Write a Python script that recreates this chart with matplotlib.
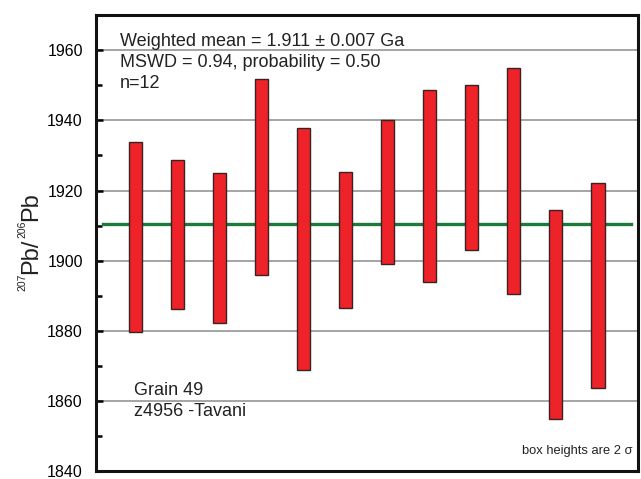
import numpy as np
import matplotlib
matplotlib.use("Agg")
import matplotlib.pyplot as plt
from matplotlib.ticker import MultipleLocator
from matplotlib.transforms import IdentityTransform

plt.rcParams['font.family'] = ['Liberation Sans', 'DejaVu Sans']

# 2-sigma box limits for each analysis (Ma)
spot = np.arange(1, 13)
box_top = [1933.8, 1928.7, 1924.9, 1951.8, 1937.9, 1925.4,
           1940.2, 1948.6, 1950.2, 1955.0, 1914.4, 1922.1]
box_bottom = [1879.8, 1886.3, 1882.4, 1896.0, 1868.9, 1886.5,
              1899.2, 1894.1, 1903.1, 1890.6, 1854.9, 1863.7]
weighted_mean = 1910.6

fig = plt.figure(figsize=(6.41, 4.79), dpi=100)
ax = fig.add_axes([0.1498, 0.0157, 0.8455, 0.953])

ax.set_xlim(0.07, 12.95)
ax.set_ylim(1840, 1970)

ax.yaxis.set_major_locator(MultipleLocator(20))
ax.yaxis.set_minor_locator(MultipleLocator(10))
ax.grid(axis='y', which='major', color='#a4a4a4', linewidth=1.4, zorder=0)
ax.set_xticks([])

ax.tick_params(axis='y', which='both', direction='in', width=1.8, left=True, right=False)
ax.tick_params(axis='y', which='major', length=5, pad=9.5, labelsize=11.5)
ax.tick_params(axis='y', which='minor', length=4)
for s in ax.spines.values():
    s.set_linewidth(2.2)
    s.set_color('#111111')

heights = np.array(box_top) - np.array(box_bottom)
ax.bar(spot, heights, bottom=box_bottom, width=0.31, color='#ee2229',
       edgecolor='#3a2222', linewidth=1.0, zorder=3)

ax.plot([0.24, 12.79], [weighted_mean, weighted_mean], color='#1c7a3a',
        linewidth=2.4, zorder=2)

# y label built from pieces so the mass numbers can be small superscripts
renderer = fig.canvas.get_renderer()
pieces = [('207', 7.5, 25), ('Pb/', 17, 37), ('206', 7.5, 25), ('Pb', 17, 37)]
ypos = 479 - 291
for txt, size, xb in pieces:
    t = fig.text(xb, ypos, txt, fontsize=size, rotation=90, rotation_mode='anchor',
                 ha='left', va='baseline', transform=IdentityTransform(), color='#222222')
    ypos += t.get_window_extent(renderer).height

fs = 13
ax.text(0.0435, 0.942, 'Weighted mean = 1.911 \u00b1 0.007 Ga', transform=ax.transAxes,
        fontsize=fs, va='center', color='#222222')
ax.text(0.0435, 0.896, 'MSWD = 0.94, probability = 0.50', transform=ax.transAxes,
        fontsize=fs, va='center', color='#222222')
ax.text(0.0435, 0.850, 'n=12', transform=ax.transAxes,
        fontsize=fs, va='center', color='#222222')
ax.text(0.07, 0.177, 'Grain 49', transform=ax.transAxes,
        fontsize=fs, va='center', color='#222222')
ax.text(0.07, 0.131, 'z4956 -Tavani', transform=ax.transAxes,
        fontsize=fs, va='center', color='#222222')
ax.text(0.99, 0.045, 'box heights are 2 \u03c3', transform=ax.transAxes,
        fontsize=9.3, ha='right', va='center', color='#222222')

fig.savefig('out.png', dpi=100)
